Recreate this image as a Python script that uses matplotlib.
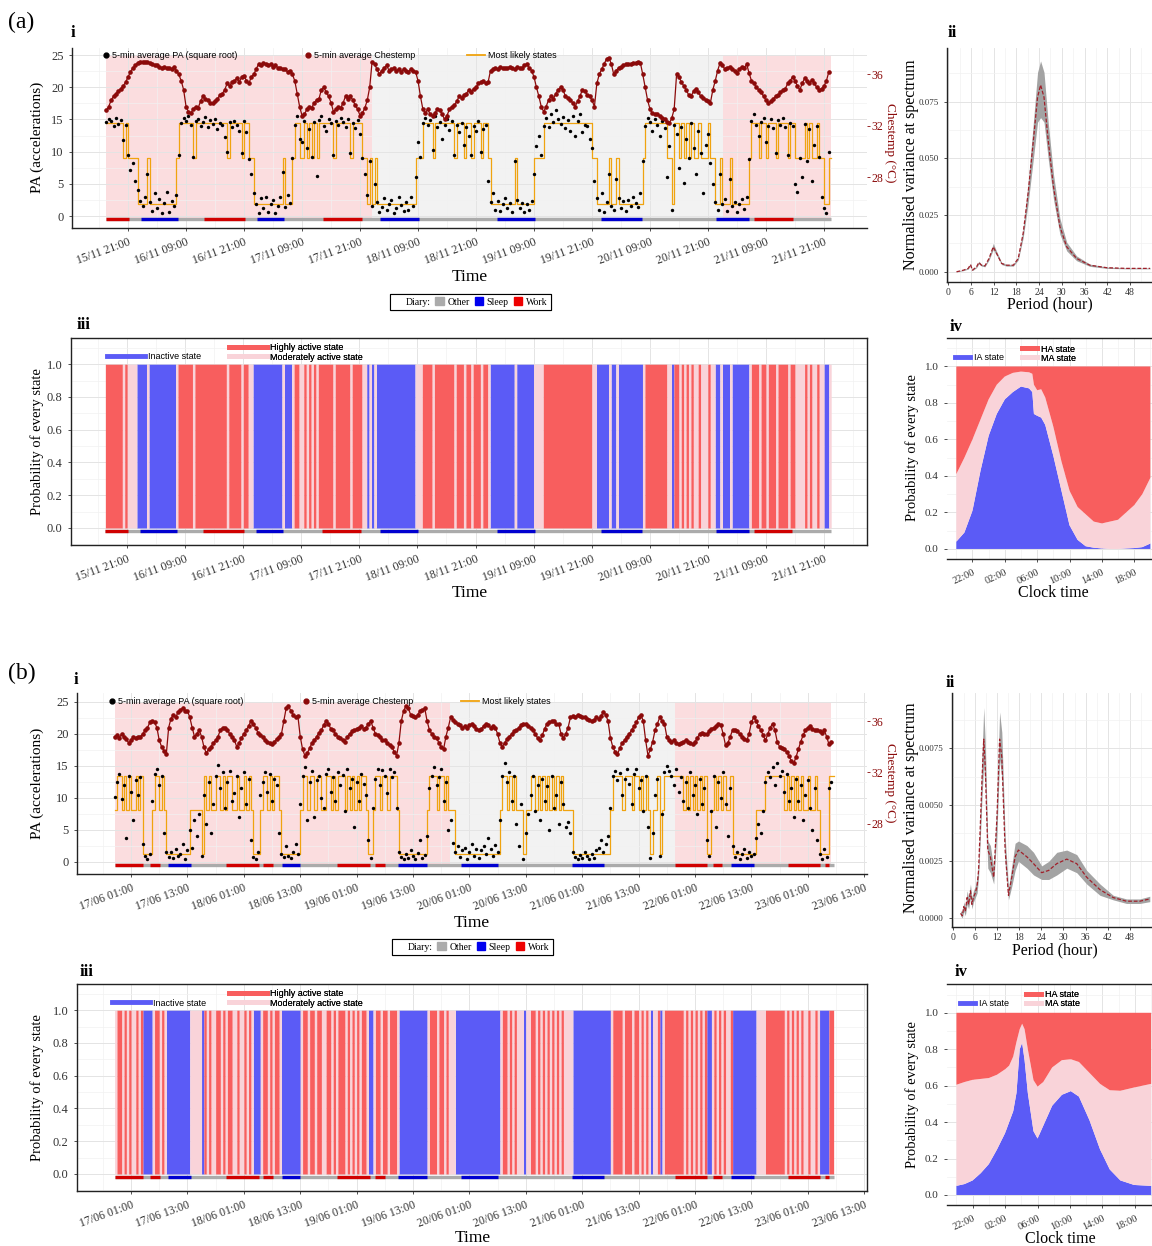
import numpy as np
import matplotlib.pyplot as plt
from matplotlib.lines import Line2D
from matplotlib.patches import Patch
from matplotlib.ticker import FixedLocator, MultipleLocator

# ------------------------------------------------------------------
# (a) 15/11 - 21/11 : half-hourly samples, hours since 15/11 00:00
# ------------------------------------------------------------------
a_start = 16.5
pa_a = [
    14.6, 15.1, 14.8, 14.0, 15.3, 14.3, 14.9, 11.8, 14.2, 9.5, 7.2, 8.3,
    5.5, 4.0, 2.3, 1.5, 3.0, 6.5, 2.2, 0.8, 3.5, 1.2, 2.6, 0.5,
    2.0, 3.8, 0.7, 2.4, 1.5, 3.2, 9.5, 14.5, 15.3, 14.8, 15.6, 14.2,
    9.2, 14.7, 15.1, 14.0, 14.6, 15.4, 13.8, 14.9, 14.3, 15.0, 13.5, 14.4,
    14.1, 12.2, 10.0, 14.6, 13.9, 14.8, 14.2, 13.2, 9.8, 14.7, 13.0, 8.9,
    6.5, 3.5, 1.8, 0.5, 2.8, 1.2, 3.0, 0.7, 1.9, 2.5, 0.4, 1.6,
    2.9, 6.8, 1.4, 3.2, 2.0, 9.0, 14.2, 15.5, 12.0, 11.5, 14.8, 10.5,
    13.5, 9.2, 14.6, 6.2, 14.9, 15.6, 14.0, 13.2, 15.1, 14.5, 9.5, 14.8,
    14.2, 15.3, 14.6, 13.8, 15.0, 9.8, 14.4, 13.6, 14.9, 12.8, 9.0, 6.5,
    3.2, 8.5, 1.5, 5.0, 2.2, 0.6, 1.4, 2.8, 0.9, 1.8, 2.5, 0.5,
    1.2, 2.9, 1.7, 0.8, 2.2, 1.0, 3.0, 1.5, 6.0, 11.5, 9.2, 14.5,
    15.3, 14.2, 14.9, 10.2, 15.5, 13.9, 14.6, 12.0, 14.1, 15.0, 13.4, 14.8,
    9.5, 14.2, 13.0, 14.5, 11.0, 13.8, 12.5, 9.5, 14.0, 13.2, 14.8, 10.0,
    13.5, 14.2, 5.5, 2.2, 3.5, 1.0, 2.4, 0.8, 1.9, 2.8, 1.2, 2.0,
    0.6, 8.5, 2.5, 1.3, 2.1, 0.7, 1.8, 1.0, 2.3, 6.5, 10.8, 12.5,
    9.5, 14.0, 15.2, 13.8, 15.8, 14.6, 16.5, 15.0, 14.3, 15.4, 13.6, 14.9,
    13.2, 15.5, 12.4, 14.8, 15.8, 13.0, 14.2, 14.0, 12.0, 10.5, 5.5, 2.8,
    1.0, 3.5, 0.6, 2.2, 6.5, 1.5, 0.9, 5.8, 2.8, 1.2, 2.4, 0.8,
    2.5, 1.6, 2.9, 2.0, 1.4, 3.5, 8.5, 14.0, 15.3, 14.6, 13.2, 15.0,
    14.1, 12.5, 14.8, 13.6, 6.0, 10.8, 1.0, 14.2, 12.8, 7.5, 13.9, 5.2,
    12.0, 9.0, 14.5, 10.5, 6.5, 13.2, 9.8, 3.5, 11.0, 12.8, 8.2, 5.0,
    2.2, 1.0, 6.5, 1.8, 2.7, 0.8, 5.8, 1.5, 2.2, 0.6, 1.9, 2.6,
    1.1, 3.0, 8.8, 14.8, 15.9, 14.2, 12.5, 14.6, 15.2, 11.5, 14.0, 15.0,
    13.6, 9.8, 14.9, 14.2, 15.3, 13.8, 9.5, 14.5, 14.0, 5.0, 3.8, 9.0,
    6.0, 14.3, 8.5, 13.5, 5.5, 11.0, 14.0, 9.2, 3.0, 1.2, 0.5, 10.0,
]
temp_a = [
    33.2, 33.5, 34.0, 34.3, 34.5, 34.7, 34.9, 35.1, 35.4, 35.8, 36.2, 36.5,
    36.7, 36.9, 37.0, 37.0, 37.0, 37.0, 36.9, 36.8, 36.7, 36.7, 36.6, 36.5,
    36.6, 36.5, 36.5, 36.4, 36.6, 36.3, 36.0, 35.5, 34.8, 33.5, 33.1, 33.0,
    33.3, 33.5, 33.4, 33.9, 34.3, 34.1, 34.0, 33.8, 33.8, 33.9, 34.1, 34.4,
    34.5, 34.8, 35.3, 35.1, 35.4, 35.5, 35.7, 35.4, 35.8, 35.9, 35.5, 35.3,
    35.8, 36.0, 36.4, 36.8, 36.7, 36.9, 36.8, 36.7, 36.8, 36.6, 36.7, 36.5,
    36.5, 36.4, 36.4, 36.2, 36.3, 36.0, 35.5, 34.5, 33.5, 32.8, 32.9, 33.3,
    33.5, 33.4, 33.8, 34.0, 34.1, 34.8, 35.0, 34.6, 34.3, 33.8, 33.1, 33.3,
    33.5, 33.4, 33.8, 34.3, 34.1, 34.3, 34.0, 33.6, 33.3, 32.8, 33.0, 33.4,
    34.0, 35.0, 37.0, 36.8, 36.4, 36.0, 36.3, 36.5, 36.7, 36.3, 36.4, 36.5,
    36.3, 36.4, 36.2, 36.4, 36.3, 36.2, 36.4, 36.3, 36.2, 35.5, 34.3, 33.3,
    33.0, 33.3, 32.9, 32.8, 33.0, 33.3, 33.2, 32.9, 32.5, 32.8, 33.3, 33.5,
    33.6, 33.9, 34.3, 34.2, 34.4, 34.5, 34.8, 34.6, 34.9, 35.0, 35.3, 35.4,
    35.5, 35.3, 35.4, 36.3, 36.4, 36.5, 36.4, 36.6, 36.5, 36.5, 36.5, 36.6,
    36.5, 36.4, 36.6, 36.5, 36.5, 36.7, 36.8, 36.5, 36.3, 35.8, 35.0, 34.3,
    33.5, 33.1, 33.5, 34.0, 34.3, 34.1, 34.5, 34.8, 35.0, 34.8, 34.3, 34.2,
    34.0, 33.8, 33.5, 33.9, 34.3, 34.8, 34.7, 34.4, 34.3, 34.0, 33.5, 35.3,
    36.0, 36.4, 36.8, 37.2, 37.3, 36.8, 36.0, 36.3, 36.5, 36.6, 36.7, 36.8,
    36.8, 36.8, 36.9, 36.9, 37.0, 36.9, 36.0, 35.0, 34.0, 33.3, 33.0, 32.9,
    32.9, 32.8, 32.6, 32.5, 32.3, 32.2, 32.6, 33.3, 36.0, 35.8, 35.4, 35.1,
    34.8, 34.4, 34.3, 34.7, 34.9, 34.6, 34.3, 34.2, 34.0, 33.9, 33.8, 34.8,
    35.5, 36.3, 36.9, 36.7, 36.4, 36.5, 36.6, 36.4, 36.3, 36.1, 36.4, 36.6,
    36.5, 36.8, 36.1, 35.5, 35.3, 35.0, 34.8, 34.6, 34.3, 34.0, 33.8, 33.9,
    34.1, 34.3, 34.4, 34.6, 34.8, 34.9, 35.3, 35.5, 35.8, 35.5, 35.1, 34.8,
    35.3, 35.7, 35.5, 35.3, 35.6, 35.3, 35.0, 34.8, 34.9, 35.1, 35.5, 36.2,
]
# most likely hidden state per sample: I = inactive, M = moderately, H = highly active
states_a = (
    "HHHHHHHMHMMM" "MIIIIMIIIIII" "IIIIIMHHHHHH" "MHHHHHHHHHHH" "HHMHHHHHMHHM"
    "MIIIIIIIIIII" "IMIIIMHHMMHM" "HMHMHHHHHHMH" "HHHHHMHHHHMM" "IMIMIIIIIIII"
    "IIIIIIIIMMMH" "HHHMHHHHHHHH" "MHHHMHHMHHHM" "HHMIIIIIIIII" "IMIIIIIIIMMM"
    "MHHHHHHHHHHH" "HHHHHHHHHMMI" "IIIIMIIMIIII" "IIIIIIMHHHHH" "HHHHMMIHHMHM"
    "HMHMMHMMMHMM" "IIMIIIMIIIII" "IIMHHHMHHMHH" "HMHHHHMHHMMM" "MHMHMMHMMIIM"
)
levels_a = {"I": 1.8, "M": 9.0, "H": 14.5}
bg_a_start = [16.5, 71.4, 144.2]
bg_a_end = [71.4, 144.2, 166.5]
bg_a_kind = ["work", "other", "work"]
diary_a_start = [16.5, 23.7, 36.7, 47.7, 61.3, 73.2, 97.4, 118.9, 142.6, 150.5]
diary_a_end = [21.2, 31.3, 45.2, 53.3, 69.4, 81.2, 105.3, 127.4, 149.5, 158.5]
diary_a_kind = ["Work", "Sleep", "Work", "Sleep", "Work", "Sleep", "Sleep", "Sleep", "Sleep", "Work"]
ticks_a = [21, 33, 45, 57, 69, 81, 93, 105, 117, 129, 141, 153, 165]
labels_a = ["15/11 21:00", "16/11 09:00", "16/11 21:00", "17/11 09:00", "17/11 21:00",
            "18/11 09:00", "18/11 21:00", "19/11 09:00", "19/11 21:00", "20/11 09:00",
            "20/11 21:00", "21/11 09:00", "21/11 21:00"]

# spectrum (ii)
period_a = [2.2, 4.0, 5.3, 5.9, 6.4, 7.5, 8.1, 8.8, 9.7, 10.8, 11.9, 12.8, 14.1, 15.4, 17.2, 18.5,
            19.8, 21.1, 22.5, 23.6, 24.4, 25.3, 26.4, 27.8, 29.5, 31.3, 33.9, 37.4, 41.9, 47.1, 53.3]
spec_a = [0.0, 0.0007, 0.0015, 0.0032, 0.0007, 0.0022, 0.0041, 0.0029, 0.0026, 0.0059, 0.011, 0.0081,
          0.0037, 0.0029, 0.0029, 0.0059, 0.017, 0.0346, 0.058, 0.077, 0.0824, 0.077, 0.058, 0.0375,
          0.0199, 0.011, 0.0059, 0.0029, 0.0018, 0.0015, 0.0015]
spec_a_lo = [0.0, 0.0005, 0.0012, 0.0027, 0.0005, 0.0018, 0.0035, 0.0025, 0.0022, 0.0052, 0.0098, 0.0072,
             0.0032, 0.0025, 0.0025, 0.0052, 0.0150, 0.0300, 0.0500, 0.0660, 0.0680, 0.0660, 0.0500, 0.0320,
             0.0165, 0.0092, 0.0049, 0.0024, 0.0015, 0.0013, 0.0013]
spec_a_hi = [0.0003, 0.0009, 0.0018, 0.0037, 0.0009, 0.0026, 0.0047, 0.0033, 0.0030, 0.0066, 0.0125, 0.0090,
             0.0042, 0.0033, 0.0033, 0.0066, 0.0190, 0.0390, 0.0660, 0.0880, 0.0930, 0.0880, 0.0660, 0.0430,
             0.0235, 0.0130, 0.0070, 0.0034, 0.0021, 0.0017, 0.0017]

# clock-time probabilities (iv), hours after 20:00
clock_a = [0, 1, 2, 3, 4, 5, 6, 7, 8, 9, 9.4, 9.6, 10, 10.5, 11, 12, 13, 14, 15, 16, 17, 18, 19, 20, 21, 22, 23, 24]
ia_a = [0.04, 0.09, 0.21, 0.43, 0.62, 0.74, 0.82, 0.86, 0.89, 0.88, 0.86, 0.74, 0.73, 0.72, 0.68, 0.51,
        0.32, 0.13, 0.05, 0.015, 0.007, 0.003, 0.0, 0.0, 0.003, 0.005, 0.01, 0.03]
ma_a = [0.37, 0.41, 0.39, 0.28, 0.20, 0.16, 0.125, 0.105, 0.082, 0.088, 0.10, 0.16, 0.14, 0.155, 0.15, 0.16,
        0.16, 0.19, 0.18, 0.175, 0.143, 0.137, 0.15, 0.16, 0.197, 0.235, 0.29, 0.36]

# ------------------------------------------------------------------
# (b) 17/06 - 23/06 : half-hourly samples, hours since 17/06 00:00
# ------------------------------------------------------------------
b_start = -2.5
pa_b = [
    10.2, 12.5, 13.8, 9.8, 12.0, 3.8, 13.5, 11.0, 6.5, 12.8, 10.5, 13.2,
    2.8, 1.0, 0.4, 1.2, 9.5, 13.8, 14.5, 12.0, 13.5, 4.5, 1.5, 0.8,
    1.5, 0.6, 2.0, 0.9, 1.3, 2.8, 0.5, 1.8, 5.0, 2.2, 6.5, 4.0,
    7.5, 1.0, 10.5, 6.0, 12.5, 4.5, 9.0, 13.5, 15.2, 11.5, 14.0, 8.5,
    12.5, 14.2, 9.5, 10.8, 13.5, 7.0, 11.5, 14.0, 9.0, 13.0, 3.5, 0.8,
    0.5, 1.5, 10.5, 12.5, 14.0, 11.0, 13.8, 9.5, 13.0, 12.0, 4.5, 1.2,
    0.8, 2.5, 1.0, 0.6, 1.5, 2.8, 1.2, 9.0, 13.5, 14.8, 6.5, 12.5,
    14.2, 7.0, 12.8, 13.5, 10.0, 8.5, 13.8, 14.5, 11.0, 13.2, 9.5, 14.0,
    12.0, 13.6, 8.0, 14.5, 11.5, 13.0, 5.5, 12.5, 9.5, 13.8, 12.2, 10.5,
    3.5, 0.6, 8.5, 13.0, 14.5, 12.0, 14.3, 13.5, 10.8, 14.6, 13.2, 14.0,
    8.5, 1.5, 0.8, 0.4, 1.2, 0.6, 1.9, 0.9, 0.5, 1.4, 3.5, 0.7,
    1.1, 4.0, 11.5, 13.5, 14.8, 12.0, 13.2, 14.5, 9.5, 12.5, 5.0, 6.5,
    3.0, 1.5, 2.5, 0.8, 1.8, 2.2, 0.5, 1.5, 2.8, 1.0, 2.0, 0.7,
    1.8, 2.5, 1.2, 3.8, 2.0, 1.0, 2.6, 1.5, 6.5, 13.5, 15.5, 12.5,
    14.0, 9.5, 13.5, 6.0, 2.5, 9.0, 0.5, 4.5, 7.5, 10.5, 13.5, 8.0,
    12.0, 6.5, 13.0, 9.5, 11.8, 5.0, 13.5, 8.5, 10.5, 6.0, 12.5, 9.0,
    5.5, 6.2, 4.5, 1.5, 0.8, 0.4, 1.1, 0.6, 1.5, 0.9, 0.5, 1.2,
    0.7, 1.8, 2.2, 3.5, 1.5, 2.8, 4.0, 8.5, 13.5, 14.2, 12.8, 13.9,
    10.5, 13.0, 14.5, 12.2, 9.0, 13.8, 14.5, 11.5, 12.8, 8.0, 13.5, 5.5,
    0.6, 4.5, 10.5, 13.0, 1.0, 7.5, 14.0, 15.0, 14.2, 13.5, 12.0, 14.5,
    11.0, 13.2, 9.5, 12.5, 8.5, 14.0, 10.5, 12.0, 7.5, 13.0, 9.0, 11.5,
    3.5, 1.0, 8.0, 13.5, 5.5, 12.5, 10.0, 14.0, 9.0, 4.0, 11.5, 2.5,
    0.8, 1.5, 0.5, 1.2, 2.0, 0.7, 1.6, 0.9, 1.3, 3.8, 6.0, 4.5,
    8.0, 12.5, 14.0, 13.2, 14.8, 12.0, 15.5, 13.5, 14.2, 11.0, 13.8, 9.5,
    11.5, 7.0, 13.0, 9.5, 12.0, 6.5, 10.5, 12.8, 8.5, 5.0, 11.5, 3.5,
    1.2, 0.4, 2.0, 0.8, 11.5, 12.5,
]
temp_b = [
    34.8, 34.9, 34.7, 35.0, 34.8, 34.6, 34.3, 34.5, 34.8, 34.7, 34.8, 34.8,
    35.0, 35.3, 35.5, 35.9, 36.0, 35.9, 35.5, 34.5, 34.0, 33.7, 33.4, 35.5,
    36.2, 36.5, 36.3, 36.7, 36.9, 37.0, 36.8, 36.8, 36.3, 35.5, 34.8, 35.0,
    35.3, 34.8, 34.0, 33.5, 33.8, 34.0, 34.3, 34.5, 34.8, 35.3, 35.5, 35.5,
    35.3, 35.0, 34.8, 34.5, 34.0, 34.3, 34.7, 35.0, 35.3, 35.6, 36.0, 35.8,
    35.5, 35.1, 34.9, 34.8, 34.5, 34.4, 34.3, 34.2, 34.4, 34.6, 34.8, 35.0,
    36.0, 37.0, 37.2, 36.8, 36.5, 36.3, 36.4, 34.8, 33.8, 33.3, 33.5, 33.9,
    34.3, 34.5, 34.8, 35.1, 35.3, 35.7, 36.0, 35.8, 35.4, 35.3, 35.0, 34.8,
    34.7, 34.5, 34.4, 34.8, 35.0, 35.2, 35.3, 35.4, 35.5, 35.6, 35.4, 35.5,
    35.8, 36.0, 35.5, 35.0, 34.9, 34.8, 34.5, 34.5, 34.3, 34.1, 34.0, 33.6,
    33.3, 34.3, 36.0, 36.8, 37.2, 37.0, 36.5, 36.4, 36.3, 36.5, 36.8, 36.9,
    37.0, 36.0, 35.3, 35.0, 34.8, 34.7, 34.3, 34.0, 33.8, 34.8, 35.5, 36.3,
    36.1, 35.9, 35.8, 35.7, 35.5, 35.6, 35.5, 35.7, 35.8, 35.6, 35.4, 35.3,
    35.4, 35.6, 35.8, 35.7, 35.5, 35.6, 35.5, 35.0, 34.3, 34.0, 34.3, 34.6,
    34.8, 35.0, 35.2, 35.3, 35.5, 35.7, 35.8, 35.8, 35.6, 35.5, 35.3, 35.0,
    34.7, 34.5, 34.9, 35.4, 35.8, 35.9, 36.0, 36.0, 35.8, 35.8, 35.0, 34.7,
    35.0, 35.5, 36.3, 36.4, 36.3, 36.5, 36.4, 36.3, 36.3, 36.2, 36.1, 36.0,
    36.1, 36.3, 36.2, 36.4, 36.7, 36.5, 36.0, 34.7, 34.0, 33.6, 33.4, 33.9,
    34.3, 34.5, 34.8, 35.0, 35.3, 35.6, 35.9, 36.3, 36.5, 36.0, 34.5, 33.3,
    33.8, 34.4, 35.3, 35.8, 36.3, 36.0, 35.8, 34.8, 34.5, 34.4, 34.5, 34.3,
    34.2, 34.3, 34.4, 34.5, 34.4, 34.3, 34.2, 34.4, 34.7, 35.0, 35.1, 35.0,
    35.0, 35.2, 35.4, 35.5, 35.6, 35.8, 35.7, 35.0, 34.1, 34.3, 34.8, 35.3,
    35.3, 35.2, 35.0, 34.8, 34.6, 34.5, 35.0, 35.9, 36.3, 36.0, 35.6, 35.3,
    34.9, 34.5, 35.0, 35.5, 35.8, 35.3, 34.4, 34.0, 33.9, 33.8, 33.6, 33.3,
    32.9, 32.7, 33.2, 33.8, 34.4, 34.9, 35.3, 35.5, 35.6, 35.4, 35.3, 35.3,
    35.2, 35.1, 35.3, 34.8, 34.2, 34.4,
]
states_b = (
    "MHHMHMHMMHMH" "IIIIMHHMHMII" "IIIIIIIIMMMM" "MIHMHMMHHMHM" "HHMMHMMHMHMI"
    "IIMHHMHMHHMI" "IIIIIIIMHHMH" "HMHHMMHHMHMH" "HHMHMHMHMHHM" "IIMHHMHHMHHH"
    "MIIIIIIIIIII" "IMHHHMHHMHMM" "MIIIIIIIIIII" "IIIIIIIIMHHM" "HMHMMMIMMHHM"
    "HMHMHMHMHMHM" "MMMIIIIIIIII" "IIIIIIIMHHHH" "MHHHMHHMHMHM" "IMMHIMHHHHHH"
    "HHMHMHMHMHMH" "IIMHMHMHMMHI" "IIIIIIIIIMMM" "MHHHHHHHHMHM" "HMHMHMMHMMHM"
    "IIIIHH"
)
levels_b = {"I": 1.2, "M": 8.2, "H": 13.5}
bg_b_start = [-2.5, 68.8, 116.7]
bg_b_end = [68.8, 116.7, 150.0]
bg_b_kind = ["work", "other", "work"]
diary_b_start = [-2.5, 5.0, 8.8, 21.1, 29.0, 33.1, 44.9, 52.9, 57.8, 71.3, 94.8, 116.7, 124.8, 128.7, 140.7, 148.7]
diary_b_end = [3.6, 7.1, 13.8, 28.2, 31.1, 37.0, 51.9, 55.0, 64.0, 79.0, 101.7, 123.5, 126.8, 133.6, 147.6, 149.5]
diary_b_kind = ["Work", "Work", "Sleep", "Work", "Work", "Sleep", "Work", "Work", "Sleep", "Sleep",
                "Sleep", "Work", "Work", "Sleep", "Work", "Work"]
ticks_b = [1, 13, 25, 37, 49, 61, 73, 85, 97, 109, 121, 133, 145, 157]
labels_b = ["17/06 01:00", "17/06 13:00", "18/06 01:00", "18/06 13:00", "19/06 01:00",
            "19/06 13:00", "20/06 01:00", "20/06 13:00", "21/06 01:00", "21/06 13:00",
            "22/06 01:00", "22/06 13:00", "23/06 01:00", "23/06 13:00"]

period_b = [2.1, 2.6, 3.0, 3.4, 3.9, 4.3, 4.8, 5.2, 5.6, 6.1, 6.6, 7.0, 7.5, 7.9, 8.4, 8.8, 9.5, 10.2, 11.1, 12.0,
            12.7, 13.3, 14.2, 15.1, 16.0, 16.9, 17.8, 20.1, 21.9, 24.1, 26.0, 28.2, 30.9, 33.6, 36.3, 39.9,
            43.5, 47.1, 50.7, 53.4]
spec_b = [0.0002, 0.0001, 0.0005, 0.0003, 0.0009, 0.0006, 0.0012, 0.0006, 0.0009, 0.0011, 0.0014, 0.0021,
          0.0042, 0.0060, 0.0079, 0.0067, 0.0030, 0.0027, 0.0018, 0.0045, 0.0079, 0.0071, 0.0030, 0.0010,
          0.0018, 0.0027, 0.0030, 0.0027, 0.0024, 0.0020, 0.0021, 0.0024, 0.0026, 0.0024, 0.0018, 0.00125,
          0.0009, 0.00074, 0.00074, 0.00084]
spec_b_lo = [0.0001, 0.0000, 0.0003, 0.0001, 0.0006, 0.0004, 0.0009, 0.0004, 0.0007, 0.0009, 0.0011, 0.0018,
             0.0036, 0.0052, 0.0068, 0.0058, 0.0022, 0.0020, 0.0015, 0.0038, 0.0070, 0.0062, 0.0024, 0.0008,
             0.0014, 0.0021, 0.0025, 0.0022, 0.0019, 0.0017, 0.0017, 0.0019, 0.0022, 0.0020, 0.0015, 0.0010,
             0.0008, 0.00064, 0.00064, 0.00072]
spec_b_hi = [0.0003, 0.0003, 0.0007, 0.0005, 0.0012, 0.0009, 0.0015, 0.0009, 0.0012, 0.0014, 0.0018, 0.0025,
             0.0050, 0.0070, 0.0093, 0.0078, 0.0034, 0.0032, 0.0022, 0.0053, 0.0091, 0.0082, 0.0036, 0.0013,
             0.0023, 0.0033, 0.0034, 0.0032, 0.0029, 0.0023, 0.0025, 0.0029, 0.0030, 0.0028, 0.0021, 0.0015,
             0.0010, 0.00084, 0.00084, 0.00096]

clock_b = [0, 1, 2, 3, 4, 5, 6, 6.5, 7, 7.4, 7.8, 8.1, 8.4, 8.8, 9.5, 10, 10.7, 11.8, 13, 14.1, 15.1, 16.4,
           17.7, 18.9, 20.2, 21.9, 24]
ia_b = [0.05, 0.06, 0.08, 0.12, 0.17, 0.25, 0.34, 0.40, 0.46, 0.56, 0.80, 0.835, 0.74, 0.56, 0.35, 0.31,
        0.38, 0.49, 0.55, 0.57, 0.54, 0.41, 0.25, 0.14, 0.08, 0.055, 0.05]
ma_b = [0.555, 0.56, 0.552, 0.517, 0.472, 0.41, 0.35, 0.31, 0.30, 0.28, 0.11, 0.105, 0.17, 0.24, 0.28, 0.285,
        0.24, 0.21, 0.19, 0.175, 0.19, 0.26, 0.36, 0.435, 0.492, 0.535, 0.56]

clock_ticks = [2, 6, 10, 14, 18, 22]
clock_labels = ["22:00", "02:00", "06:00", "10:00", "14:00", "18:00"]

# ------------------------------------------------------------------
# styling
# ------------------------------------------------------------------
SERIF = ["Liberation Serif", "DejaVu Serif"]
SANS = ["Liberation Sans", "DejaVu Sans"]
plt.rcParams["font.family"] = SERIF

BLUE = "#5B5BF6"
RED = "#F85E5E"
PINK = "#F9D3D9"
DARKRED = "#8B0A0A"
ORANGE = "#F0A30F"
BG = {"work": "#FBDDDF", "other": "#F2F2F2"}
DIARY = {"Other": "#ABABAB", "Sleep": "#0000D0", "Work": "#D00000"}
TICKC = "#333333"

W, H = 1152, 1246
fig = plt.figure(figsize=(W / 100, H / 100), dpi=100)


def add_box(l, t, r, b):
    return fig.add_axes([l / W, 1 - b / H, (r - l) / W, (b - t) / H])


def ftext(x, y, s, **kw):
    fig.text(x / W, 1 - y / H, s, **kw)


def put_legend(ax, handles, labels, x, y, size=6.5, family=SANS, **kw):
    opts = dict(loc="center left", bbox_to_anchor=(x / W, 1 - y / H), bbox_transform=fig.transFigure,
                frameon=False, prop={"family": family, "size": size}, borderpad=0, borderaxespad=0,
                handletextpad=0.35, labelspacing=0.05, handlelength=1.0)
    opts.update(kw)
    lg = ax.legend(handles, labels, **opts)
    ax.add_artist(lg)
    return lg


def style(ax, spines, xsize=8.5, ysize=9):
    ax.set_axisbelow(True)
    for side in ["left", "right", "top", "bottom"]:
        ax.spines[side].set_visible(side in spines)
        ax.spines[side].set_color("#222222")
        ax.spines[side].set_linewidth(1.0)
    ax.grid(True, which="major", color="#E4E4E4", lw=0.7)
    ax.grid(True, which="minor", color="#F1F1F1", lw=0.5)
    ax.tick_params(which="major", length=2.5, width=0.6, color=TICKC, labelcolor=TICKC)
    ax.tick_params(which="minor", length=0)
    ax.tick_params(axis="x", labelsize=xsize)
    ax.tick_params(axis="y", labelsize=ysize)


def time_axis(ax, ticks, labels, xlim):
    ax.set_xlim(*xlim)
    ax.set_xticks(ticks)
    ax.set_xticklabels(labels, rotation=20, ha="right", rotation_mode="anchor")
    ax.xaxis.set_minor_locator(FixedLocator([t - 6 for t in ticks] + [ticks[-1] + 6]))


def diary_bar(ax, y, t_first, t_last, starts, ends, kinds, lw):
    ax.hlines(y, t_first, t_last, color=DIARY["Other"], lw=lw, zorder=4)
    ax.hlines([y] * len(starts), starts, ends, colors=[DIARY[k] for k in kinds], lw=lw, zorder=5)


def temp_to_pa(tc):
    return (np.asarray(tc) - 25.0) * 2.0


def pa_to_temp(p):
    return 25.0 + np.asarray(p) / 2.0


def panel_i(ax, t0, pa, temp, states, levels, bgs, bge, bgk, ds, de, dk, ticks, labels, xlim, ylim):
    t = t0 + 0.5 * np.arange(len(pa))
    te = np.append(t, t[-1] + 0.5)
    for s, e, k in zip(bgs, bge, bgk):
        ax.fill_between([s, e], -0.3, 25, color=BG[k], lw=0, zorder=0.1)
    lev = np.array([levels[c] for c in states])
    ax.step(te, np.append(lev, lev[-1]), where="post", color=ORANGE, lw=0.9, zorder=2)
    ax.scatter(t, pa, s=6, color="black", lw=0, zorder=3)
    ax.plot(t, temp_to_pa(temp), "-o", color=DARKRED, ms=2.3, lw=0.9, zorder=3)
    diary_bar(ax, -0.45, t[0], te[-1], ds, de, dk, 2.4)
    style(ax, ["left", "bottom"])
    time_axis(ax, ticks, labels, xlim)
    ax.set_ylim(*ylim)
    ax.set_yticks([0, 5, 10, 15, 20, 25])
    ax.yaxis.set_minor_locator(MultipleLocator(2.5))
    sec = ax.secondary_yaxis("right", functions=(pa_to_temp, temp_to_pa))
    sec.set_yticks([28, 32, 36])
    sec.spines["right"].set_visible(False)
    sec.tick_params(length=2, width=0.6, pad=1.5, color=DARKRED, labelcolor=DARKRED, labelsize=8.5)
    dot = Line2D([], [], marker="o", ls="", color="black", ms=3.5)
    rdot = Line2D([], [], marker="o", ls="", color=DARKRED, ms=3.5)
    oline = Line2D([], [], color=ORANGE, lw=1.3)
    return dot, rdot, oline


def panel_iii(ax, t0, states, ds, de, dk, ticks, labels, xlim):
    t = t0 + 0.5 * np.arange(len(states))
    te = np.append(t, t[-1] + 0.5)
    ia = np.array([c == "I" for c in states] + [states[-1] == "I"], float)
    ma = np.array([c == "M" for c in states] + [states[-1] == "M"], float)
    ax.fill_between(te, 0, ia, step="post", color=BLUE, lw=0, zorder=1)
    ax.fill_between(te, ia, ia + ma, step="post", color=PINK, lw=0, zorder=1)
    ax.fill_between(te, ia + ma, 1, step="post", color=RED, lw=0, zorder=1)
    diary_bar(ax, -0.018, t[0], te[-1], ds, de, dk, 2.4)
    style(ax, ["left", "bottom", "top", "right"])
    time_axis(ax, ticks, labels, xlim)
    ax.set_ylim(-0.104, 1.16)
    ax.set_yticks([0, 0.2, 0.4, 0.6, 0.8, 1.0])
    ax.set_yticklabels(["0.0", "0.2", "0.4", "0.6", "0.8", "1.0"])
    ax.yaxis.set_minor_locator(MultipleLocator(0.1))


def panel_ii(ax, period, spec, lo, hi, xlim, ylim, yticks, ylabels):
    ax.fill_between(period, lo, hi, color="#A3A3A3", lw=0, zorder=1)
    ax.plot(period, spec, color="#A0202A", ls=(0, (3, 1.5)), lw=0.9, zorder=2)
    style(ax, ["left", "bottom"], xsize=7, ysize=6.5)
    ax.tick_params(axis="x", pad=1.5)
    ax.set_xlim(*xlim)
    ax.set_ylim(*ylim)
    ax.set_xticks([0, 6, 12, 18, 24, 30, 36, 42, 48])
    ax.xaxis.set_minor_locator(MultipleLocator(3))
    ax.set_yticks(yticks)
    ax.set_yticklabels(ylabels)
    ax.yaxis.set_minor_locator(MultipleLocator(yticks[1] / 2))


def panel_iv(ax, clock, ia, ma, xlim, ylim):
    ha = 1 - np.array(ia) - np.array(ma)
    ax.stackplot(clock, ia, ma, ha, colors=[BLUE, PINK, RED], lw=0, zorder=1)
    style(ax, ["top", "bottom"], xsize=7.5, ysize=8)
    ax.set_xlim(*xlim)
    ax.set_ylim(*ylim)
    ax.set_xticks(clock_ticks)
    ax.set_xticklabels(clock_labels, rotation=25, ha="right", rotation_mode="anchor")
    ax.xaxis.set_minor_locator(FixedLocator([0, 4, 8, 12, 16, 20, 24]))
    ax.set_yticks([0, 0.2, 0.4, 0.6, 0.8, 1.0])
    ax.set_yticklabels(["0.0", "0.2", "0.4", "0.6", "0.8", "1.0"])
    ax.yaxis.set_minor_locator(MultipleLocator(0.1))


def diary_legend(ax, x, y):
    handles = [Line2D([], [], ls="none"), Patch(color=DIARY["Other"]),
               Patch(color="#0000EE"), Patch(color="#EE0000")]
    lg = ax.legend(handles, ["Diary:", "Other", "Sleep", "Work"], ncol=4, loc="center left",
                   bbox_to_anchor=(x / W, 1 - y / H), bbox_transform=fig.transFigure, frameon=True,
                   fancybox=False, edgecolor="black", framealpha=1, prop={"family": SERIF, "size": 7},
                   handlelength=0.9, handleheight=0.9, handletextpad=0.35, columnspacing=0.5,
                   borderpad=0.35, borderaxespad=0)
    lg.get_frame().set_linewidth(0.8)
    ax.add_artist(lg)


def legends_i(ax, handles, x1, x2, x3, y):
    dot, rdot, oline = handles
    put_legend(ax, [dot], ["5-min average PA (square root)"], x1, y, handlelength=0.6)
    put_legend(ax, [rdot], ["5-min average Chestemp"], x2, y, handlelength=0.6)
    put_legend(ax, [oline], ["Most likely states"], x3, y, handlelength=2.0)


def legends_iii(ax, x1, x2, y1, y2):
    put_legend(ax, [Line2D([], [], color=BLUE, lw=3.5)], ["Inactive state"], x1, y1, handlelength=4.2)
    put_legend(ax, [Line2D([], [], color=RED, lw=3.5), Line2D([], [], color=PINK, lw=3.5)],
               ["Highly active state", "Moderately active state"], x2, y2, handlelength=4.2,
               labelspacing=0.0)


def legends_iv(ax, x1, x2, y1, y2):
    put_legend(ax, [Line2D([], [], color=BLUE, lw=3.5)], ["IA state"], x1, y1, handlelength=1.7)
    put_legend(ax, [Line2D([], [], color=RED, lw=3.5), Line2D([], [], color=PINK, lw=3.5)],
               ["HA state", "MA state"], x2, y2, handlelength=1.7, labelspacing=0.0)


# ------------------------------------------------------------------
# axes
# ------------------------------------------------------------------
ax_ai = add_box(72, 48, 867, 228)
ax_aii = add_box(947, 48, 1152, 282)
ax_aiii = add_box(71, 338, 867, 545)
ax_aiv = add_box(947, 338, 1152, 559)
ax_bi = add_box(77, 693, 867, 874)
ax_bii = add_box(952, 693, 1152, 927)
ax_biii = add_box(77, 984, 867, 1191)
ax_biv = add_box(947, 984, 1152, 1205)

# (a)
h = panel_i(ax_ai, a_start, pa_a, temp_a, states_a, levels_a, bg_a_start, bg_a_end, bg_a_kind,
            diary_a_start, diary_a_end, diary_a_kind, ticks_a, labels_a, (9.4, 173.9), (-1.86, 26.1))
legends_i(ax_ai, h, 103, 305, 467, 56)
diary_legend(ax_ai, 390, 302)
panel_ii(ax_aii, period_a, spec_a, spec_a_lo, spec_a_hi, (-0.3, 53.8), (-0.0045, 0.0987),
         [0, 0.025, 0.05, 0.075], ["0.000", "0.025", "0.050", "0.075"])
panel_iii(ax_aiii, a_start, states_a, diary_a_start, diary_a_end, diary_a_kind, ticks_a, labels_a, (9.4, 173.9))
legends_iii(ax_aiii, 107, 229, 357, 352.5)
panel_iv(ax_aiv, clock_a, ia_a, ma_a, (-1.15, 24.2), (-0.055, 1.156))
legends_iv(ax_aiv, 955, 1022, 358, 353.5)

# (b)
h = panel_i(ax_bi, b_start, pa_b, temp_b, states_b, levels_b, bg_b_start, bg_b_end, bg_b_kind,
            diary_b_start, diary_b_end, diary_b_kind, ticks_b, labels_b, (-10.5, 157.6), (-1.875, 26.4))
legends_i(ax_bi, h, 109, 303, 461, 702)
diary_legend(ax_bi, 392, 947)
panel_ii(ax_bii, period_b, spec_b, spec_b_lo, spec_b_hi, (-0.2, 54.0), (-0.0004, 0.00994),
         [0, 0.0025, 0.005, 0.0075], ["0.0000", "0.0025", "0.0050", "0.0075"])
panel_iii(ax_biii, b_start, states_b, diary_b_start, diary_b_end, diary_b_kind, ticks_b, labels_b, (-10.5, 157.6))
legends_iii(ax_biii, 112, 229, 1003, 998.5)
panel_iv(ax_biv, clock_b, ia_b, ma_b, (-1.16, 24.1), (-0.055, 1.158))
legends_iv(ax_biv, 960, 1026, 1004, 999)

# ------------------------------------------------------------------
# texts
# ------------------------------------------------------------------
ftext(8, 22, "(a)", fontsize=17, va="center")
ftext(8, 673, "(b)", fontsize=17, va="center")
for x, y, s in [(71, 33, "i"), (948, 33, "ii"), (77, 325, "iii"), (950, 327, "iv"),
                (74, 680, "i"), (946, 683, "ii"), (80, 972, "iii"), (955, 972, "iv")]:
    ftext(x, y, s, fontsize=12, fontweight="bold", va="center")

for x, y in [(470, 277), (472, 923), (470, 593), (473, 1238)]:
    ftext(x, y, "Time", fontsize=12.5, ha="center", va="center")
for y in [137, 783]:
    ftext(37, y, "PA (accelerations)", fontsize=11, rotation=90, ha="center", va="center")
for y in [442, 1088]:
    ftext(37, y, "Probability of every state", fontsize=10.5, rotation=90, ha="center", va="center")
for y in [448, 1095]:
    ftext(912, y, "Probability of every state", fontsize=10.5, rotation=90, ha="center", va="center")
for y in [165, 808]:
    ftext(911, y, "Normalised variance at spectrum", fontsize=11.5, rotation=90, ha="center", va="center")
for x, y in [(1050, 304), (1055, 950)]:
    ftext(x, y, "Period (hour)", fontsize=11.5, ha="center", va="center")
for x, y in [(1053, 593), (1060, 1239)]:
    ftext(x, y, "Clock time", fontsize=11.5, ha="center", va="center")
for y in [143, 783]:
    ftext(890, y, "Chestemp (°C)", fontsize=9.5, rotation=270, ha="center", va="center", color=DARKRED)

fig.savefig("out.png", dpi=100)
